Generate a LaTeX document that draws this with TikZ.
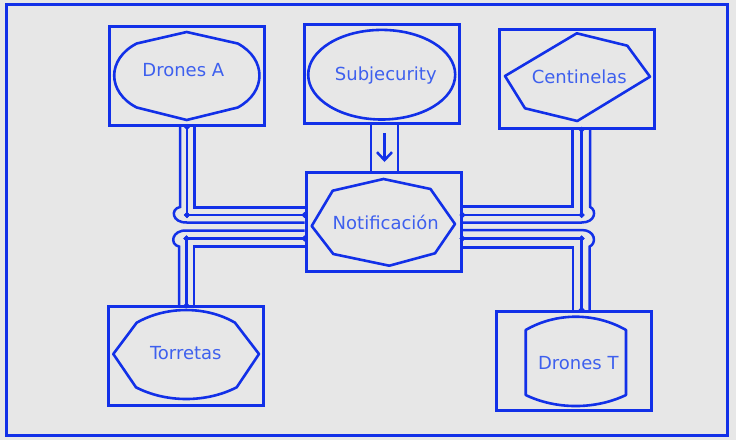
\documentclass[tikz,border=0pt]{standalone}
\usepackage{fontspec}
\setmainfont{DejaVu Sans}
\usetikzlibrary{calc,arrows.meta}
\definecolor{ink}{RGB}{18,48,232}
\definecolor{inktext}{RGB}{62,96,238}
\definecolor{paper}{RGB}{231,231,231}
\begin{document}
\begin{tikzpicture}
                [x=1pt, y=-1pt,
                 box/.style={draw=ink, line width=3pt, minimum width=155pt, minimum height=99pt, inner sep=0pt},
                 outline/.style={draw=ink, line width=2.6pt, line join=round},
                 lbl/.style={text=inktext, font=\fontsize{18}{20}\selectfont, inner sep=0pt, text height=13pt, text depth=0pt},
                 wire/.style={draw=ink, line width=2.5pt},
                 core/.style={wire, {Circle[length=5pt]}-{Circle[length=5pt]}, shorten <=-2.5pt, shorten >=-2.5pt},
                 flow/.style={wire, -{Straight Barb[length=8pt, width=15pt]}}]
                \useasboundingbox (0,0) rectangle (736,440);
                \fill[paper] (0,0) rectangle (736,440);
                \draw[ink, line width=3pt] (6.5,4.5) rectangle (727.5,435.5);
                % Define nodes
                \node[box] (dronesA) at (186.7,76) {};
                \node[box] (subj) at (381.5,74) {};
                \node[box] (cent) at (576.8,78.7) {};
                \node[box] (notif) at (383.5,222) {};
                \node[box] (torr) at (186.2,356.3) {};
                \node[box] (dronesT) at (574.2,360.8) {};
                % Inner shapes
                \begin{scope}[shift={(dronesA)}]
                    \draw[outline] (0,-44) -- (51,-32.5) .. controls (80,-17) and (80,16) .. (51,31.5) -- (0,44) -- (-50,31.5) .. controls (-80,16) and (-80,-17) .. (-50,-32.5) -- cycle;
                \end{scope}
                \begin{scope}[shift={(subj)}]
                    \draw[outline] (0.2,0.7) ellipse [x radius=73.5, y radius=44.8];
                \end{scope}
                \begin{scope}[shift={(cent)}]
                    \draw[outline] (0,-45.4) -- (50.5,-33) -- (73.2,-2) -- (0.5,42.3) -- (-51.8,29.6) -- (-71.8,-2.7) -- cycle;
                \end{scope}
                \begin{scope}[shift={(notif)}]
                    \draw[outline] (0,-43) -- (47,-33) -- (71.5,2) -- (51.5,31.3) -- (5.8,43.7) -- (-50.2,32) -- (-71.8,4) -- (-50.8,-31.3) -- cycle;
                \end{scope}
                \begin{scope}[shift={(torr)}]
                    \draw[outline] (-49.5,-33.6) .. controls (-20,-50.5) and (20,-50.5) .. (48.8,-33.6) -- (72.8,-2.3) -- (50.5,31) .. controls (20,46.6) and (-20,46.6) .. (-50.2,31) -- (-72.9,-2.3) -- cycle;
                \end{scope}
                \begin{scope}[shift={(dronesT)}]
                    \draw[outline] (-48.5,-30.8) .. controls (-18,-48.5) and (21,-48.5) .. (51.8,-30.8) -- (51.8,34.2) .. controls (21,48.9) and (-18,48.9) .. (-48.5,34.2) -- cycle;
                \end{scope}
                % Labels
                \node[lbl] (dronesAtext) at ($(dronesA)+(-3.4,-6)$) {Drones A};
                \node[lbl] (subjtext) at ($(subj)+(4.3,0.2)$) {Subjecurity};
                \node[lbl] (centtext) at ($(cent)+(2.5,-2)$) {Centinelas};
                \node[lbl] (notiftext) at ($(notif)+(2.3,0.5)$) {Notificación};
                \node[lbl] (torrtext) at ($(torr)+(-0.4,-3)$) {Torretas};
                \node[lbl] (dronesTtext) at ($(dronesT)+(4.1,2.2)$) {Drones T};
                % Define joints
                \coordinate (kA) at (187,215);
                \coordinate (kT) at (186.5,238.5);
                \coordinate (kC) at (581.7,215);
                \coordinate (kD) at (581.7,238.5);
                \coordinate (kS) at (384.5,150);
                % Define edges
                \draw[core] (dronesA.south -| kA) -- (kA);
                \draw[core] (kA) -- (kA -| notif.west);
                \draw[wire] ($(dronesA.south -| kA)+(7.5,0)$) |- ($(kA -| notif.west)+(0,-7.5)$);
                \draw[wire] ($(dronesA.south -| kA)+(-7,0)$) -- ($(kA)+(-7,-8)$) .. controls ($(kA)+(-17,-6)$) and ($(kA)+(-15,8)$) .. ($(kA)+(0,7.5)$) -- ($(kA -| notif.west)+(0,7.5)$);
                \draw[core] (torr.north -| kT) -- (kT);
                \draw[core] (kT) -- (kT -| notif.west);
                \draw[wire] ($(torr.north -| kT)+(7.5,0)$) |- ($(kT -| notif.west)+(0,8)$);
                \draw[wire] ($(torr.north -| kT)+(-7.5,0)$) -- ($(kT)+(-7.5,8)$) .. controls ($(kT)+(-17,6)$) and ($(kT)+(-15,-8.5)$) .. ($(kT)+(0,-8)$) -- ($(kT -| notif.west)+(0,-8)$);
                \draw[core] (cent.south -| kC) -- (kC);
                \draw[core] (kC) -- (kC -| notif.east);
                \draw[wire] ($(cent.south -| kC)+(-9,0)$) |- ($(kC -| notif.east)+(0,-8.5)$);
                \draw[wire] ($(cent.south -| kC)+(8.5,0)$) -- ($(kC)+(8.5,-8)$) .. controls ($(kC)+(15,-5)$) and ($(kC)+(14,7.5)$) .. ($(kC)+(0,7.5)$) -- ($(kC -| notif.east)+(0,7.5)$);
                \draw[core] (dronesT.north -| kD) -- (kD);
                \draw[core] (kD) -- (kD -| notif.east);
                \draw[wire] ($(dronesT.north -| kD)+(-8.5,0)$) |- ($(kD -| notif.east)+(0,9)$);
                \draw[wire] ($(dronesT.north -| kD)+(8,0)$) -- ($(kD)+(8,8)$) .. controls ($(kD)+(15,5)$) and ($(kD)+(14,-8.5)$) .. ($(kD)+(0,-8.5)$) -- ($(kD -| notif.east)+(0,-8.5)$);
                \draw[wire] ($(subj.south -| kS)+(-13.5,0)$) -- ($(notif.north -| kS)+(-13.5,0)$);
                \draw[wire] ($(subj.south -| kS)+(13.5,0)$) -- ($(notif.north -| kS)+(13.5,0)$);
                \draw[flow] ($(subj.south -| kS)+(0,8)$) -- ($(notif.north -| kS)+(0,-9)$);
            \end{tikzpicture}
\end{document}
